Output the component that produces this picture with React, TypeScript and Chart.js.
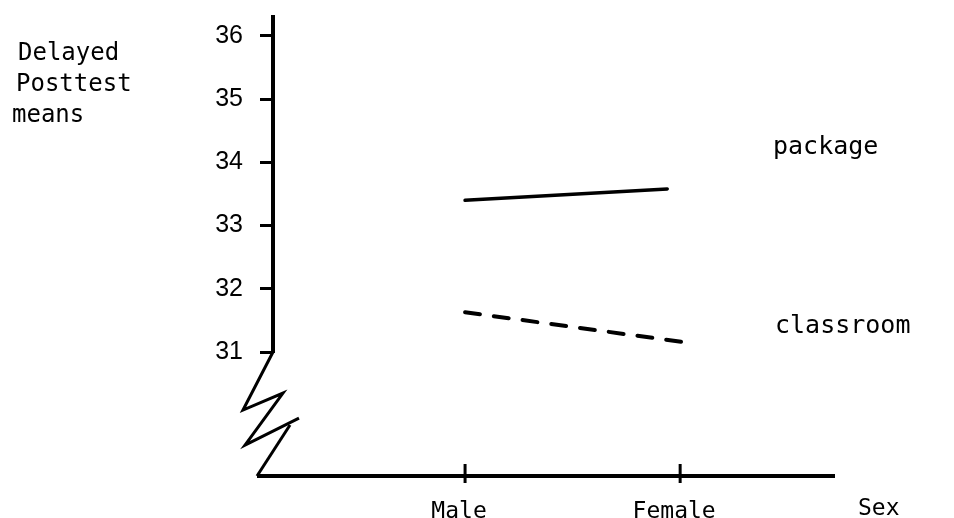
import React, { useEffect, useRef } from "react";
import { Chart, registerables } from "chart.js";

Chart.register(...registerables);

// ---- data ----
const categories = ["Male", "Female"];
const categoryX = [1, 2];
const yTickValues = [31, 32, 33, 34, 35, 36];
const packageX = [1, 1.94];
const packageY = [33.4, 33.58];
const classroomX = [1, 2.01];
const classroomY = [31.63, 31.16];
const yAxisTitle = ["Delayed", "Posttest", "means"];
const xAxisTitle = "Sex";
const seriesNames = ["package", "classroom"];

const MONO = '"DejaVu Sans Mono", "Liberation Mono", monospace';
const SANS = '"Liberation Sans", Arial, sans-serif';

const decorPlugin = {
  id: "decor",
  afterDraw(chart: any) {
    const { ctx } = chart;
    const x = chart.scales.x;
    const y = chart.scales.y;
    const ax = x.left;
    const yBot = y.bottom;
    const y31 = y.getPixelForValue(31);
    ctx.save();
    ctx.strokeStyle = "#000";
    ctx.fillStyle = "#000";
    ctx.lineCap = "butt";
    // y axis
    ctx.lineWidth = 4;
    ctx.beginPath();
    ctx.moveTo(ax, y.top);
    ctx.lineTo(ax, y31 + 1);
    ctx.stroke();
    // zigzag break
    ctx.lineWidth = 3;
    ctx.lineJoin = "miter";
    ctx.beginPath();
    ctx.moveTo(ax, y31);
    ctx.lineTo(ax - 30, y31 + 58);
    ctx.lineTo(ax + 10, y31 + 41);
    ctx.lineTo(ax - 28, y31 + 93);
    ctx.lineTo(ax + 26, y31 + 66);
    ctx.stroke();
    ctx.beginPath();
    ctx.moveTo(ax - 16, yBot);
    ctx.lineTo(ax + 17, y31 + 73);
    ctx.stroke();
    // x axis
    ctx.lineWidth = 4;
    ctx.beginPath();
    ctx.moveTo(ax - 16, yBot);
    ctx.lineTo(x.right, yBot);
    ctx.stroke();
    // x tick marks crossing the axis
    ctx.lineWidth = 3;
    categoryX.forEach((v) => {
      const px = x.getPixelForValue(v);
      ctx.beginPath();
      ctx.moveTo(px, yBot - 12);
      ctx.lineTo(px, yBot + 7);
      ctx.stroke();
    });
    // texts
    ctx.textBaseline = "alphabetic";
    ctx.textAlign = "left";
    ctx.font = `24px ${MONO}`;
    const tx = [18, 16, 12];
    const tb = [60, 91, 122];
    yAxisTitle.forEach((t, i) => ctx.fillText(t, tx[i], tb[i]));
    ctx.font = `23px ${MONO}`;
    ctx.fillText(xAxisTitle, x.getPixelForValue(2.92) - 20, 515);
    ctx.font = `25px ${MONO}`;
    ctx.fillText(seriesNames[0], 773, y.getPixelForValue(33.4) - 46);
    ctx.fillText(seriesNames[1], 775, y.getPixelForValue(31.3));
    ctx.restore();
  },
};

export default function App() {
  const ref = useRef<HTMLCanvasElement | null>(null);
  useEffect(() => {
    document.body.style.margin = "0";
    const canvas = ref.current!;
    const chart = new Chart(canvas, {
      type: "line",
      data: {
        datasets: [
          {
            label: seriesNames[0],
            data: packageX.map((v, i) => ({ x: v, y: packageY[i] })),
            borderColor: "#000",
            borderWidth: 3.5,
            pointRadius: 0,
            borderCapStyle: "round",
          },
          {
            label: seriesNames[1],
            data: classroomX.map((v, i) => ({ x: v, y: classroomY[i] })),
            borderColor: "#000",
            borderWidth: 4,
            borderDash: [15, 14],
            borderCapStyle: "round",
            pointRadius: 0,
          },
        ],
      },
      options: {
        animation: false,
        responsive: false,
        devicePixelRatio: 1,
        layout: { padding: { top: 15, right: 119, left: 0, bottom: 0 } },
        plugins: { legend: { display: false }, tooltip: { enabled: false } },
        scales: {
          x: {
            type: "linear",
            min: 0.107,
            max: 2.72,
            grid: { display: false },
            border: { display: false },
            afterBuildTicks: (s: any) => {
              s.ticks = categoryX.map((v) => ({ value: v }));
            },
            afterFit: (s: any) => {
              s.height = 42;
              s.paddingLeft = 0;
              s.paddingRight = 0;
            },
            ticks: {
              callback: (_v: any, i: number) => categories[i],
              font: { family: MONO, size: 23 },
              color: "#000",
              padding: 14,
              labelOffset: -6,
              maxRotation: 0,
              autoSkip: false,
            },
          },
          y: {
            type: "linear",
            min: 29.04,
            max: 36.33,
            grid: {
              display: true,
              drawOnChartArea: false,
              drawTicks: true,
              tickLength: 13,
              tickWidth: 3,
              color: "#000",
            },
            border: { display: false },
            afterBuildTicks: (s: any) => {
              s.ticks = yTickValues.map((v) => ({ value: v }));
            },
            afterFit: (s: any) => {
              s.width = 273;
              s.paddingTop = 0;
              s.paddingBottom = 0;
            },
            ticks: {
              callback: (v: any) => String(v),
              font: { family: SANS, size: 25 },
              color: "#000",
              padding: 17,
              autoSkip: false,
            },
          },
        },
      },
      plugins: [decorPlugin],
    } as any);
    return () => chart.destroy();
  }, []);
  return (
    <div style={{ width: 954, height: 518, background: "#fff" }}>
      <canvas ref={ref} width={954} height={518} style={{ display: "block", width: 954, height: 518 }} />
    </div>
  );
}
